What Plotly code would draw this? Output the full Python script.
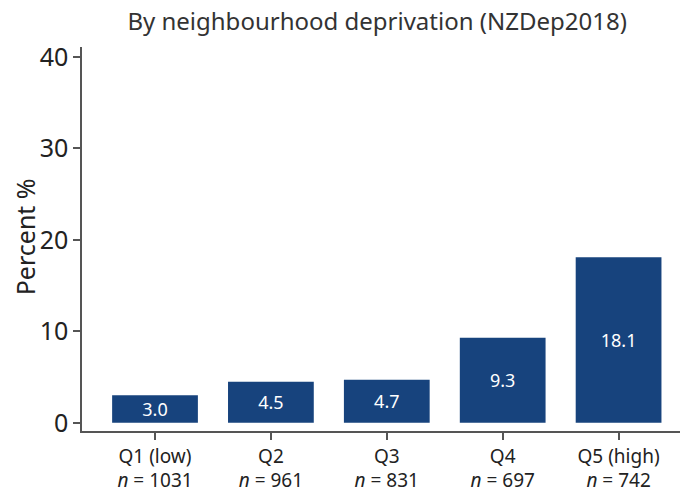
import plotly.graph_objects as go

categories = ["Q1 (low)", "Q2", "Q3", "Q4", "Q5 (high)"]
n_values = [1031, 961, 831, 697, 742]
percent = [3.0, 4.5, 4.7, 9.3, 18.1]

tick_text = [f"{c}<br><i>n</i> = {n}" for c, n in zip(categories, n_values)]
FONT = "Noto Sans"

fig = go.Figure(go.Bar(
    x=list(range(len(categories))),
    y=percent,
    width=0.74,
    marker=dict(color="#17437d", line=dict(width=0)),
    text=[f"{v:.1f}" for v in percent],
    textposition="inside",
    insidetextanchor="middle",
    textangle=0,
    textfont=dict(color="white", size=18, family=FONT),
))

fig.update_layout(
    width=682, height=496,
    margin=dict(l=82, r=2, t=47, b=65, autoexpand=False),
    plot_bgcolor="white", paper_bgcolor="white",
    showlegend=False,
    uniformtext=dict(minsize=18, mode="show"),
    title=dict(text="By neighbourhood deprivation (NZDep2018)", x=0.553, xanchor="center",
               y=0.973, yanchor="top", font=dict(size=24, color="#333333", family=FONT)),
    font=dict(family=FONT, color="#222222"),
    annotations=[dict(text="Percent %", xref="paper", yref="paper", x=-0.095, y=0.505,
                      xanchor="center", yanchor="middle", textangle=-90, showarrow=False,
                      font=dict(size=25, color="#222222", family=FONT))],
)
fig.update_xaxes(
    range=[-0.63, 4.53], tickmode="array", tickvals=list(range(len(categories))), ticktext=tick_text,
    showline=True, linecolor="#555555", linewidth=1.5, ticks="outside", ticklen=7, tickcolor="#555555",
    tickwidth=1.5, showgrid=False, zeroline=False, tickfont=dict(size=19, color="#222222"),
    automargin=False,
)
fig.update_yaxes(
    range=[-0.9, 41.1], tickvals=[0, 10, 20, 30, 40],
    showline=True, linecolor="#555555", linewidth=1.5, ticks="outside", ticklen=7, tickcolor="#555555",
    tickwidth=1.5, showgrid=False, zeroline=False, tickfont=dict(size=25, color="#222222"),
    automargin=False,
)
fig.write_html("out.html", config={"displayModeBar": False},
               post_script="document.body.style.margin='0';document.body.style.overflow='hidden';")
